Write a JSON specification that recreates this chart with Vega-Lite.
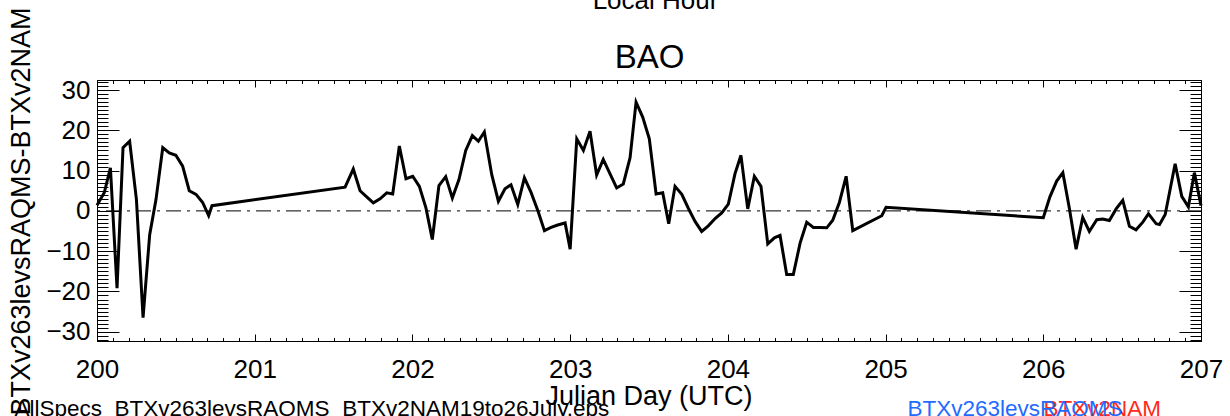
{
  "$schema": "https://vega.github.io/schema/vega-lite/v6.json",
  "width": 1104,
  "height": 261,
  "autosize": {"type": "none"},
  "padding": {"left": 97, "top": 80, "right": 29, "bottom": 75},
  "background": "white",
  "config": {
    "view": {"stroke": "black", "strokeWidth": 1},
    "axis": {"grid": false, "domain": false, "labelFont": "Liberation Sans", "titleFont": "Liberation Sans", "titleFontWeight": "normal", "labelColor": "black", "titleColor": "black", "tickColor": "black"}
  },
  "datasets": {
    "bao": [
      {"day": 200.000, "diff": 1.4}, {"day": 200.046, "diff": 4.5}, {"day": 200.085, "diff": 10.7}, {"day": 200.127, "diff": -19.2},
      {"day": 200.165, "diff": 15.7}, {"day": 200.207, "diff": 17.3}, {"day": 200.250, "diff": 2.8}, {"day": 200.292, "diff": -26.5},
      {"day": 200.334, "diff": -5.9}, {"day": 200.374, "diff": 2.8}, {"day": 200.417, "diff": 15.7}, {"day": 200.458, "diff": 14.4},
      {"day": 200.500, "diff": 13.8}, {"day": 200.543, "diff": 11.1}, {"day": 200.585, "diff": 5.0}, {"day": 200.628, "diff": 4.1},
      {"day": 200.670, "diff": 2.1}, {"day": 200.708, "diff": -1.2}, {"day": 200.729, "diff": 1.3},
      {"day": 201.573, "diff": 5.9}, {"day": 201.625, "diff": 10.4}, {"day": 201.668, "diff": 5.0}, {"day": 201.710, "diff": 3.5},
      {"day": 201.752, "diff": 2.0}, {"day": 201.795, "diff": 3.0}, {"day": 201.837, "diff": 4.5}, {"day": 201.875, "diff": 4.2},
      {"day": 201.917, "diff": 16.1}, {"day": 201.959, "diff": 8.0}, {"day": 202.002, "diff": 8.6}, {"day": 202.044, "diff": 6.1},
      {"day": 202.086, "diff": 0.7}, {"day": 202.126, "diff": -7.1}, {"day": 202.168, "diff": 6.3}, {"day": 202.211, "diff": 8.5},
      {"day": 202.253, "diff": 3.2}, {"day": 202.295, "diff": 7.8}, {"day": 202.338, "diff": 15.0}, {"day": 202.380, "diff": 18.7},
      {"day": 202.418, "diff": 17.3}, {"day": 202.456, "diff": 19.6}, {"day": 202.503, "diff": 9.0}, {"day": 202.545, "diff": 2.4},
      {"day": 202.587, "diff": 5.5}, {"day": 202.625, "diff": 6.5}, {"day": 202.668, "diff": 1.6}, {"day": 202.710, "diff": 8.2},
      {"day": 202.752, "diff": 4.6}, {"day": 202.795, "diff": 0.1}, {"day": 202.837, "diff": -4.9}, {"day": 202.879, "diff": -4.1},
      {"day": 202.921, "diff": -3.5}, {"day": 202.968, "diff": -3.0}, {"day": 203.000, "diff": -9.5}, {"day": 203.042, "diff": 17.9},
      {"day": 203.084, "diff": 15.0}, {"day": 203.126, "diff": 19.8}, {"day": 203.168, "diff": 8.9}, {"day": 203.210, "diff": 12.8},
      {"day": 203.253, "diff": 9.2}, {"day": 203.295, "diff": 5.7}, {"day": 203.337, "diff": 6.7}, {"day": 203.380, "diff": 13.2},
      {"day": 203.418, "diff": 27.0}, {"day": 203.460, "diff": 23.3}, {"day": 203.502, "diff": 17.9}, {"day": 203.545, "diff": 4.2},
      {"day": 203.587, "diff": 4.5}, {"day": 203.625, "diff": -3.2}, {"day": 203.665, "diff": 6.1}, {"day": 203.708, "diff": 4.1},
      {"day": 203.750, "diff": 0.6}, {"day": 203.792, "diff": -2.6}, {"day": 203.834, "diff": -5.1}, {"day": 203.876, "diff": -3.7},
      {"day": 203.919, "diff": -1.9}, {"day": 203.961, "diff": -0.5}, {"day": 204.003, "diff": 1.7}, {"day": 204.045, "diff": 9.2},
      {"day": 204.083, "diff": 13.8}, {"day": 204.126, "diff": 0.5}, {"day": 204.168, "diff": 8.6}, {"day": 204.210, "diff": 6.1},
      {"day": 204.253, "diff": -8.2}, {"day": 204.295, "diff": -6.7}, {"day": 204.331, "diff": -6.1}, {"day": 204.373, "diff": -15.8},
      {"day": 204.415, "diff": -15.8}, {"day": 204.458, "diff": -8.0}, {"day": 204.500, "diff": -2.8}, {"day": 204.542, "diff": -4.1},
      {"day": 204.585, "diff": -4.1}, {"day": 204.627, "diff": -4.2}, {"day": 204.665, "diff": -2.3}, {"day": 204.707, "diff": 2.1},
      {"day": 204.750, "diff": 8.6}, {"day": 204.792, "diff": -4.9}, {"day": 204.976, "diff": -1.2}, {"day": 205.003, "diff": 0.9},
      {"day": 206.000, "diff": -1.7}, {"day": 206.042, "diff": 3.5}, {"day": 206.085, "diff": 7.4}, {"day": 206.124, "diff": 9.5},
      {"day": 206.165, "diff": 0.7}, {"day": 206.208, "diff": -9.5}, {"day": 206.250, "diff": -1.6}, {"day": 206.292, "diff": -5.1},
      {"day": 206.339, "diff": -2.2}, {"day": 206.377, "diff": -2.0}, {"day": 206.419, "diff": -2.4}, {"day": 206.462, "diff": 0.5},
      {"day": 206.504, "diff": 2.6}, {"day": 206.546, "diff": -3.8}, {"day": 206.588, "diff": -4.7}, {"day": 206.631, "diff": -2.8},
      {"day": 206.667, "diff": -0.7}, {"day": 206.716, "diff": -3.2}, {"day": 206.737, "diff": -3.4}, {"day": 206.773, "diff": -0.9},
      {"day": 206.836, "diff": 11.7}, {"day": 206.878, "diff": 3.6}, {"day": 206.920, "diff": 1.0}, {"day": 206.958, "diff": 9.5},
      {"day": 207.000, "diff": 1.3}
    ]
  },
  "data": {"name": "bao"},
  "layer": [
    {
      "mark": {"type": "line", "color": "black", "strokeWidth": 3},
      "encoding": {
        "x": {"field": "day", "type": "quantitative", "scale": {"domain": [200, 207], "nice": false, "zero": false},
          "axis": {"orient": "top", "values": [200, 201, 202, 203, 204, 205, 206, 207], "labels": false, "tickSize": -7, "zindex": 1,
            "title": "BAO", "titleFontSize": 33, "titleX": 552, "titleY": -13, "titleAlign": "center", "titleBaseline": "alphabetic"}},
        "y": {"field": "diff", "type": "quantitative", "scale": {"domain": [-32.3, 32.5], "nice": false, "zero": false},
          "axis": {"orient": "right", "values": [-30, -20, -10, 0, 10, 20, 30], "labels": false, "tickSize": -22, "zindex": 1, "title": null}}
      }
    },
    {
      "mark": {"type": "line", "color": "black", "strokeWidth": 3, "strokeOpacity": 0},
      "encoding": {
        "x": {"field": "day", "type": "quantitative",
          "axis": {"orient": "bottom", "values": [200, 201, 202, 203, 204, 205, 206, 207], "tickSize": 0, "tickOpacity": 0, "labelFontSize": 26, "labelPadding": 36, "labelBaseline": "alphabetic", "labelFlush": false, "labelOverlap": false, "labelBound": false, "format": "d",
            "title": "Julian Day (UTC)", "titleFontSize": 27, "titleX": 551.5, "titleY": 63, "titleAlign": "center", "titleBaseline": "alphabetic"}},
        "y": {"field": "diff", "type": "quantitative",
          "axis": {"orient": "left", "values": [-30, -20, -10, 0, 10, 20, 30], "tickSize": 0, "tickOpacity": 0, "labelFontSize": 26, "labelPadding": 7, "labelFlush": false, "labelOverlap": false, "labelBaseline": "middle",
            "title": "BTXv263levsRAQMS-BTXv2NAM", "titleFontSize": 27, "titleAngle": 270, "titleX": -68, "titleY": 131, "titleAlign": "center", "titleBaseline": "alphabetic"}}
      }
    },
    {
      "mark": {"type": "line", "color": "black", "strokeWidth": 3, "strokeOpacity": 0},
      "encoding": {
        "x": {"field": "day", "type": "quantitative",
          "axis": {"orient": "bottom", "values": [200, 201, 202, 203, 204, 205, 206, 207], "labels": false, "tickSize": -7, "zindex": 1,
            "title": "AllSpecs_BTXv263levsRAQMS_BTXv2NAM19to26July.eps", "titleFontSize": 22.5, "titleX": -83, "titleY": 74, "titleAlign": "left", "titleBaseline": "alphabetic"}},
        "y": {"field": "diff", "type": "quantitative",
          "axis": {"orient": "left", "values": [-30, -20, -10, 0, 10, 20, 30], "labels": false, "tickSize": -22, "zindex": 1, "title": null}}
      }
    },
    {
      "mark": {"type": "line", "color": "black", "strokeWidth": 3, "strokeOpacity": 0},
      "encoding": {
        "x": {"field": "day", "type": "quantitative",
          "axis": {"orient": "bottom", "values": [200, 200.1, 200.2, 200.3, 200.4, 200.5, 200.6, 200.7, 200.8, 200.9, 201, 201.1, 201.2, 201.3, 201.4, 201.5, 201.6, 201.7, 201.8, 201.9, 202, 202.1, 202.2, 202.3, 202.4, 202.5, 202.6, 202.7, 202.8, 202.9, 203, 203.1, 203.2, 203.3, 203.4, 203.5, 203.6, 203.7, 203.8, 203.9, 204, 204.1, 204.2, 204.3, 204.4, 204.5, 204.6, 204.7, 204.8, 204.9, 205, 205.1, 205.2, 205.3, 205.4, 205.5, 205.6, 205.7, 205.8, 205.9, 206, 206.1, 206.2, 206.3, 206.4, 206.5, 206.6, 206.7, 206.8, 206.9, 207], "labels": false, "tickSize": -3.5, "zindex": 1,
            "title": "BTXv263levsRAQMS", "titleColor": "#1f6bff", "titleFontSize": 22.5, "titleX": 810, "titleY": 74, "titleAlign": "left", "titleBaseline": "alphabetic"}},
        "y": {"field": "diff", "type": "quantitative",
          "axis": {"orient": "left", "values": [-32, -31, -30, -29, -28, -27, -26, -25, -24, -23, -22, -21, -20, -19, -18, -17, -16, -15, -14, -13, -12, -11, -10, -9, -8, -7, -6, -5, -4, -3, -2, -1, 0, 1, 2, 3, 4, 5, 6, 7, 8, 9, 10, 11, 12, 13, 14, 15, 16, 17, 18, 19, 20, 21, 22, 23, 24, 25, 26, 27, 28, 29, 30, 31, 32], "labels": false, "tickSize": -11, "zindex": 1, "title": null}}
      }
    },
    {
      "mark": {"type": "line", "color": "black", "strokeWidth": 3, "strokeOpacity": 0},
      "encoding": {
        "x": {"field": "day", "type": "quantitative",
          "axis": {"orient": "top", "values": [200, 200.1, 200.2, 200.3, 200.4, 200.5, 200.6, 200.7, 200.8, 200.9, 201, 201.1, 201.2, 201.3, 201.4, 201.5, 201.6, 201.7, 201.8, 201.9, 202, 202.1, 202.2, 202.3, 202.4, 202.5, 202.6, 202.7, 202.8, 202.9, 203, 203.1, 203.2, 203.3, 203.4, 203.5, 203.6, 203.7, 203.8, 203.9, 204, 204.1, 204.2, 204.3, 204.4, 204.5, 204.6, 204.7, 204.8, 204.9, 205, 205.1, 205.2, 205.3, 205.4, 205.5, 205.6, 205.7, 205.8, 205.9, 206, 206.1, 206.2, 206.3, 206.4, 206.5, 206.6, 206.7, 206.8, 206.9, 207], "labels": false, "tickSize": -3.5, "zindex": 1,
            "title": "Local Hour", "titleFontSize": 26, "titleX": 558, "titleY": -72, "titleAlign": "center", "titleBaseline": "alphabetic"}},
        "y": {"field": "diff", "type": "quantitative",
          "axis": {"orient": "right", "values": [-32, -31, -30, -29, -28, -27, -26, -25, -24, -23, -22, -21, -20, -19, -18, -17, -16, -15, -14, -13, -12, -11, -10, -9, -8, -7, -6, -5, -4, -3, -2, -1, 0, 1, 2, 3, 4, 5, 6, 7, 8, 9, 10, 11, 12, 13, 14, 15, 16, 17, 18, 19, 20, 21, 22, 23, 24, 25, 26, 27, 28, 29, 30, 31, 32], "labels": false, "tickSize": -11, "zindex": 1, "title": null}}
      }
    },
    {
      "mark": {"type": "line", "color": "black", "strokeWidth": 3, "strokeOpacity": 0},
      "encoding": {
        "x": {"field": "day", "type": "quantitative",
          "axis": {"orient": "bottom", "labels": false, "tickSize": 0, "tickOpacity": 0,
            "title": "BTXv2NAM", "titleColor": "#ff2a1a", "titleFontSize": 22.5, "titleX": 946, "titleY": 74, "titleAlign": "left", "titleBaseline": "alphabetic"}},
        "y": {"field": "diff", "type": "quantitative", "axis": null}
      }
    },
    {
      "data": {"values": [{}]},
      "mark": {"type": "rule", "color": "black", "strokeWidth": 1, "strokeDash": [15, 6, 3, 6]},
      "encoding": {
        "y": {"datum": 0, "type": "quantitative", "axis": null}
      }
    }
  ],
  "resolve": {"axis": {"x": "independent", "y": "independent"}}
}
